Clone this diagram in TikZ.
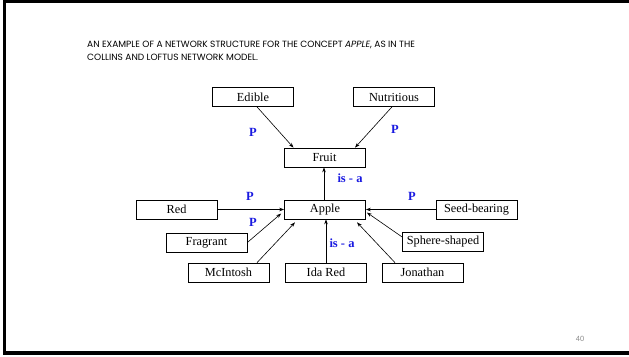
\documentclass[tikz,border=0pt]{standalone}
\usepackage{fontspec}
\setmainfont{Liberation Serif}
\newfontfamily\titlefont{Poppins}
\newfontfamily\numfont{Liberation Sans}
\usetikzlibrary{arrows.meta}
\definecolor{lblue}{RGB}{25,25,225}
\tikzset{
  concept/.style={draw, line width=0.7pt, minimum width=81pt, minimum height=19pt, inner sep=0pt, font=\fontsize{12.3}{13}\selectfont},
  link/.style={line width=0.6pt, -{Stealth[length=5pt,width=3.5pt]}},
  rel/.style={text=lblue, font=\fontsize{12.5}{13}\selectfont\bfseries, inner sep=0pt},
  ttl/.style={anchor=base west, inner sep=0pt, font=\titlefont\fontsize{9.05}{10}\selectfont}
}
\begin{document}
\begin{tikzpicture}[x=1pt,y=-1pt]
\useasboundingbox (0,0) rectangle (629,356);
\fill[white] (0,0) rectangle (629,356);
\draw[line width=3.5pt] (629,1.5) -- (4.5,1.5) -- (4.5,353) -- (629,353);

\node[ttl] (t1) at (87,47) {AN EXAMPLE OF A NETWORK STRUCTURE FOR THE CONCEPT \textit{APPLE}, AS IN THE};
\node[ttl] (t2) at (87,60) {COLLINS AND LOFTUS NETWORK MODEL.};

\node[concept] (edible) at (253,97) {Edible};
\node[concept] (nutri) at (394,97) {Nutritious};
\node[concept] (fruit) at (324.5,157.5) {Fruit};
\node[concept] (red) at (176.5,209.5) {Red};
\node[concept] (apple) at (325,209.5) {Apple};
\node[concept] (seed) at (476.5,209.5) {Seed-bearing};
\node[concept] (frag) at (206.5,242.5) {Fragrant};
\node[concept, minimum width=81pt] (sphere) at (443,241.5) {Sphere-shaped};
\node[concept] (mcin) at (228.5,272.5) {McIntosh};
\node[concept] (ida) at (326,272.5) {Ida Red};
\node[concept] (jon) at (422.5,272.5) {Jonathan};

\draw[link] ([xshift=4pt]edible.south) -- ([xshift=-31pt]fruit.north);
\draw[link] ([xshift=-2pt]nutri.south) -- ([xshift=30.5pt]fruit.north);
\draw[link] ([xshift=-1pt]apple.north) -- ([xshift=-0.5pt]fruit.south);
\draw[link] (red.east) -- (apple.west);
\draw[link] (seed.west) -- (apple.east);
\draw[link] (frag.east) -- ([xshift=-3pt,yshift=-4pt]apple.west);
\draw[link] ([xshift=28.5pt]mcin.north) -- ([xshift=-30pt,yshift=-3pt]apple.south);
\draw[link] (ida.north) -- ([xshift=1pt]apple.south);
\draw[link] ([xshift=-27.5pt]jon.north) -- ([xshift=32pt,yshift=-3pt]apple.south);
\draw[link] ([yshift=4.5pt]sphere.west) -- ([xshift=1pt,yshift=-3pt]apple.east);

\node[rel] (p1) at (253,132) {P};
\node[rel] (p2) at (395,129) {P};
\node[rel] (isa1) at (350,178) {is - a};
\node[rel] (p3) at (250,196) {P};
\node[rel] (p4) at (253,222) {P};
\node[rel] (p5) at (412,196) {P};
\node[rel] (isa2) at (342,243) {is - a};

\node[text=black!45, font=\numfont\fontsize{7.5}{8}\selectfont, inner sep=0pt] (num) at (580,339) {40};
\end{tikzpicture}
\end{document}
